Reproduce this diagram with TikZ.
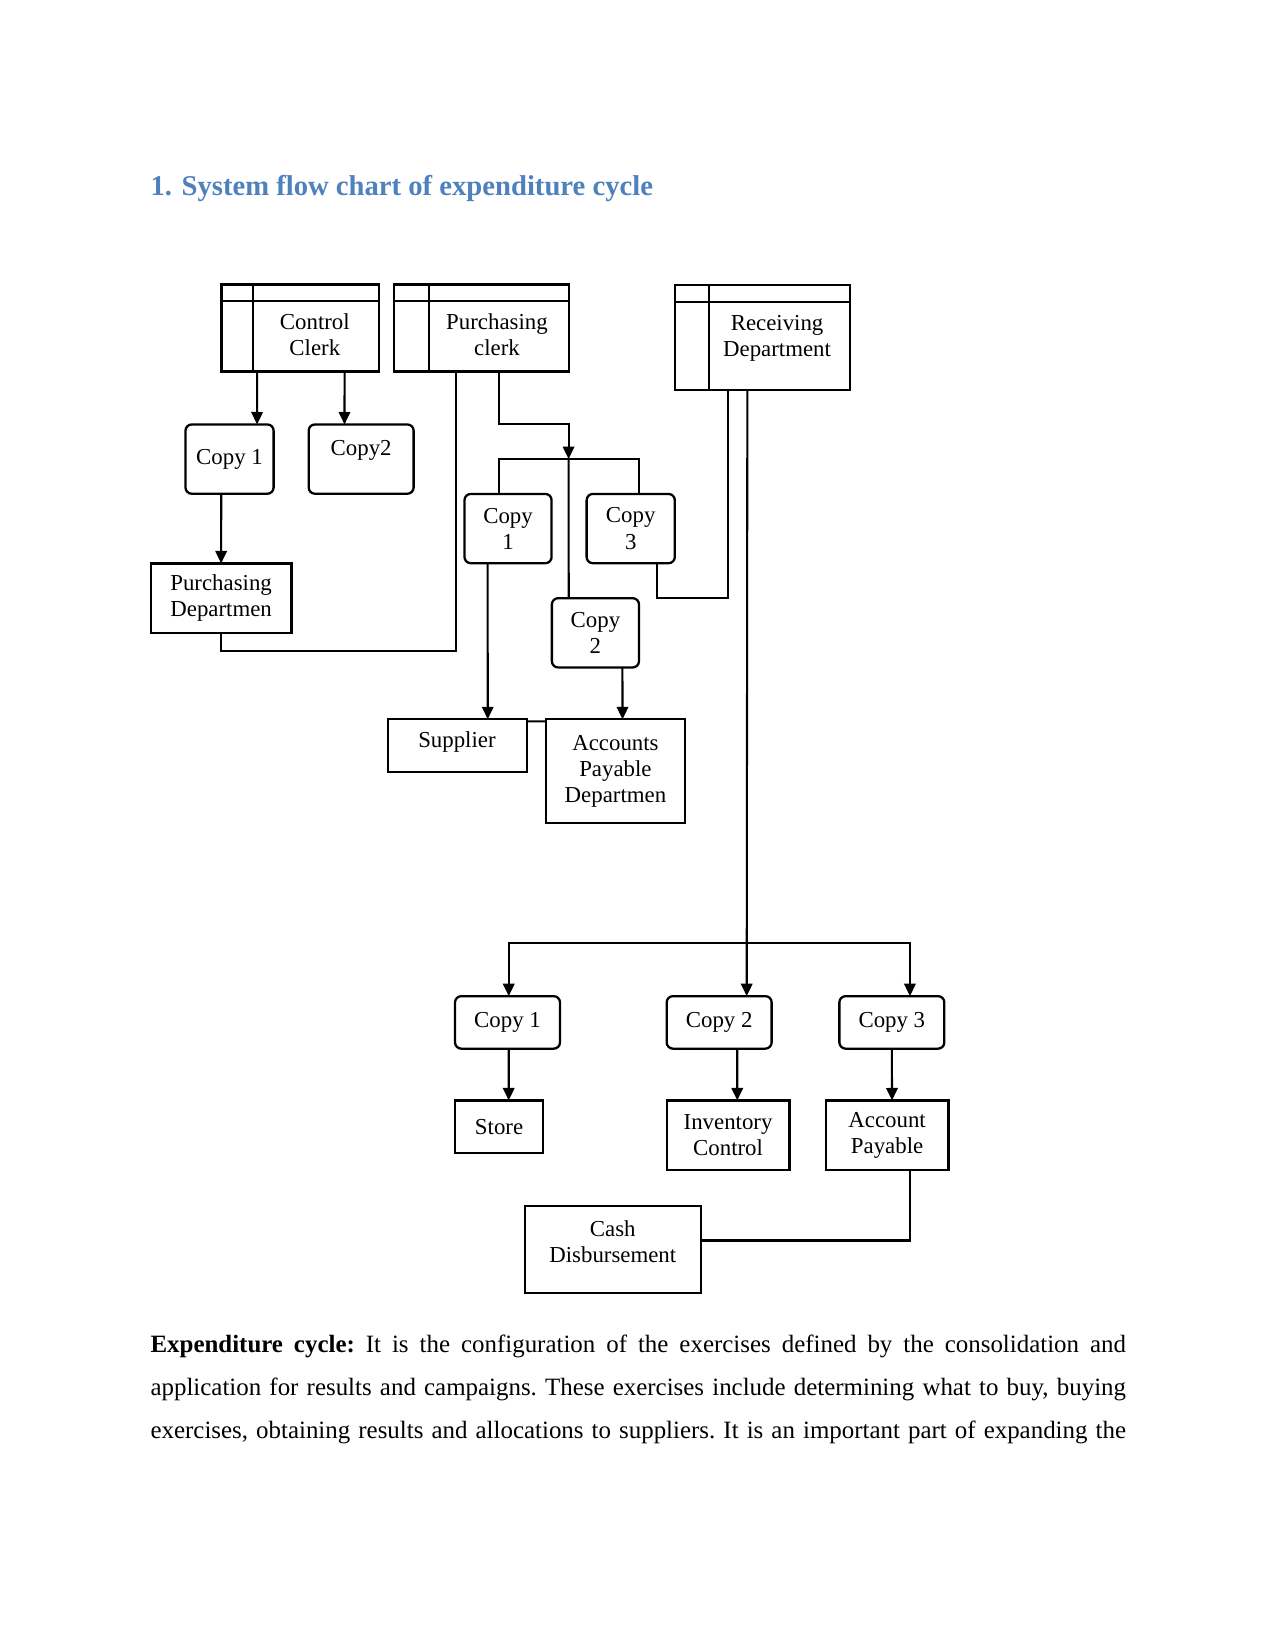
\documentclass[tikz,border=0pt]{standalone}
\usepackage{fontspec}
\setmainfont{Liberation Serif}
\usetikzlibrary{arrows.meta,calc}
\newcommand\ux{0.50539pt}
\definecolor{headblue}{RGB}{79,129,189}

\begin{document}
\begin{tikzpicture}[x=0.017829cm, y=-0.017829cm, line width=1pt,
    every node/.style={font=\fontsize{11}{12.6}\selectfont, align=center, inner sep=0pt, outer sep=0pt},
    sz/.style 2 args={minimum width=#1*\ux, minimum height=#2*\ux},
    box/.style={draw, line width=1.1pt},
    copybox/.style={draw, line width=1.1pt, rounded corners=3pt},
    arr/.style={-{Triangle[length=6pt,width=5.5pt]}}]
    \useasboundingbox (0,0) rectangle (1211,1568);

    \node[anchor=base west, text=headblue, font=\fontsize{13.8}{16}\selectfont\bfseries] (title) at (143,186) {1. System flow chart of expenditure cycle};

    % department files
    \node[box, sz={150}{83}] (ctrl) at (285,311.5) {};
    \node[box, sz={167}{83}] (pclerk) at (457.5,311.5) {};
    \node[box, sz={167}{100}] (recv) at (724,320.5) {};
    \foreach \d/\w in {ctrl/30, pclerk/33, recv/33} {
        \draw ($(\d.north west)+(0,16)$) -- ($(\d.north east)+(0,16)$);
        \draw ($(\d.north west)+(\w,0)$) -- ($(\d.south west)+(\w,0)$);
    }
    \node (ctrl-t) at (299,318) {Control\\Clerk};
    \node (pclerk-t) at (472,318) {Purchasing\\clerk};
    \node (recv-t) at (738,321) {Receiving\\Department};

    % top copies
    \node[copybox, sz={84}{66}] (ca1) at (218,436) {Copy 1};
    \node[copybox, sz={100}{66}] (ca2) at (343,436) {};
    \node (ca2-t) at (343,428) {Copy2};
    \node[box, sz={134}{66}] (pdept) at (210,568) {Purchasing\\Departmen};

    \node[copybox, sz={83}{66}] (cb1) at (482.5,502) {Copy\\1};
    \node[copybox, sz={84}{66}] (cb3) at (599,502) {Copy\\3};
    \node[copybox, sz={83}{66}] (cb2) at (565.5,601) {Copy\\2};
    \node[box, sz={133}{50}] (supp) at (434.5,708) {};
    \node (supp-t) at (434,705) {Supplier};
    \node[box, sz={133}{99}] (apdept) at (584.5,732.5) {Accounts\\Payable\\Departmen};

    % bottom copies
    \node[copybox, sz={100}{50}] (cc1) at (482,971) {Copy 1};
    \node[copybox, sz={100}{50}] (cc2) at (683,971) {Copy 2};
    \node[copybox, sz={100}{50}] (cc3) at (847,971) {Copy 3};
    \node[box, sz={84}{50}] (store) at (474,1070) {Store};
    \node[box, sz={117}{66}] (inv) at (691.5,1078) {Inventory\\Control};
    \node[box, sz={117}{66}] (accp) at (842.5,1078) {Account\\Payable};
    \node[box, sz={168}{83}] (cash) at (582,1186.5) {};
    \node (cash-t) at (582,1179) {Cash\\Disbursement};

    \coordinate (jb) at (540,403);
    \coordinate (split) at (540,436);
    \coordinate (fork) at (709,896);

    \draw[arr] ($(ctrl.south west)+(34,0)$) -- ($(ca1.north west)+(68,0)$);
    \draw[arr] ($(ctrl.south west)+(117,0)$) -- ($(ca2.north west)+(34,0)$);
    \draw[arr] ($(ca1.south west)+(34,0)$) -- (pdept.north);
    \draw (pdept.south) -- ++(0,17) -| ($(pclerk.south west)+(59,0)$);
    \draw[arr] ($(pclerk.south west)+(100,0)$) |- (jb) -- (split);
    \draw ($(cb1.north west)+(33,0)$) |- (split) -| ($(cb3.north west)+(50,0)$);
    \draw (split) -- ($(cb2.north west)+(16,0)$);
    \draw ($(cb3.south west)+(67,0)$) -- ++(0,33) -| ($(recv.south west)+(51,0)$);
    \draw[arr] ($(cb1.south west)+(22,0)$) -- ($(supp.north west)+(95,0)$);
    \draw[arr] ($(cb2.south west)+(67,0)$) -- ($(apdept.north west)+(73,0)$);
    \draw ($(supp.north east)+(0,2)$) -- ($(apdept.north west)+(0,2)$);

    \draw[arr] ($(recv.south west)+(69,0)$) -- ($(cc2.north west)+(76,0)$);
    \draw[arr] (fork) -| ($(cc1.north west)+(51,0)$);
    \draw[arr] (fork) -| ($(cc3.north west)+(67,0)$);
    \draw[arr] ($(cc1.south west)+(51,0)$) -- ($(store.north west)+(51,0)$);
    \draw[arr] ($(cc2.south west)+(67,0)$) -- ($(inv.north west)+(67,0)$);
    \draw[arr] (cc3.south) -- ($(accp.north west)+(63,0)$);
    \draw ($(accp.south west)+(80,0)$) |- ($(cash.north east)+(0,33)$);

    \node[anchor=north west, text width=6.5in, align=justify, font=\fontsize{12}{20.7}\selectfont] (para) at (143,1268) {\frenchspacing\parfillskip=0pt \textbf{Expenditure cycle:} It is the configuration of the exercises defined by the consolidation and\linebreak application for results and campaigns. These exercises include determining what to buy, buying\linebreak exercises, obtaining results and allocations to suppliers. It is an important part of expanding the\par};
\end{tikzpicture}
\end{document}
